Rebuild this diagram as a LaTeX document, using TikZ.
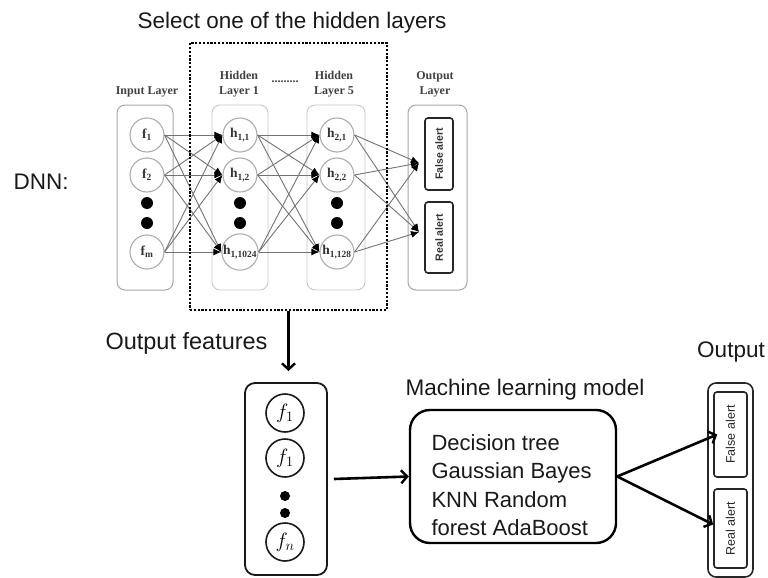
\documentclass[tikz,border=0pt]{standalone}
\usepackage{fontspec}
\setmainfont{Liberation Sans}
\newfontfamily\serifb{Liberation Serif}
\usetikzlibrary{arrows.meta}
\tikzset{
  neuron/.style={circle, draw=gray!65, line width=1.1pt, minimum size=34pt, inner sep=0pt,
    font=\serifb\bfseries\fontsize{13.5}{13.5}\selectfont, text=black!80},
  layerbox/.style={draw=gray!70, rounded corners=8pt, line width=1pt, minimum width=56pt, minimum height=185pt, inner sep=0pt},
  hidbox/.style={draw=gray!45, rounded corners=8pt, line width=0.9pt, minimum height=185pt, inner sep=0pt},
  layerlabel/.style={font=\serifb\bfseries\fontsize{12}{15}\selectfont, text=black!75, align=center},
  conn/.style={draw=black!55, line width=0.9pt, -{Latex[length=8pt,width=7pt,color=black]}},
  bigdot/.style={circle, fill=black, minimum size=12pt, inner sep=0pt},
  smalldot/.style={circle, fill=black, minimum size=10pt, inner sep=0pt},
  alertbox/.style={draw=black!85, rounded corners=3pt, line width=1.6pt, inner sep=0pt},
  bigtext/.style={font=\fontsize{22.5}{27}\selectfont, text=black!90},
  fcircle/.style={circle, draw=black!90, line width=1.6pt, minimum size=38pt, inner sep=0pt, font=\fontsize{21}{21}\selectfont},
  thickbox/.style={draw=black!90, line width=1.8pt, rounded corners=10pt, inner sep=0pt},
  bigarrow/.style={draw=black, line width=2.6pt, -{Straight Barb[length=6pt,width=13pt,line width=2.4pt]}}
}
\begin{document}
\begin{tikzpicture}[x=1pt,y=-1pt]
\useasboundingbox (0,0) rectangle (768,578);

% titles
\node[bigtext] (title) at (292,23) {Select one of the hidden layers};
\node[bigtext, anchor=west] (dnn) at (10,182) {DNN:};

% layer boxes
\node[layerbox] (inbox) at (145,197.5) {};
\node[hidbox, minimum width=56pt] (h1box) at (240,197.5) {};
\node[hidbox, minimum width=58pt] (h5box) at (336,197.5) {};
\node[layerbox, minimum width=59pt] (outbox) at (437.5,197.5) {};

% layer labels
\node[layerlabel] (inlab) at (147,92) {Input Layer};
\node[layerlabel] (h1lab) at (239,84) {Hidden\\Layer 1};
\node[layerlabel] (hdots) at (285,82) {.........};
\node[layerlabel] (h5lab) at (334,84) {Hidden\\Layer 5};
\node[layerlabel] (outlab) at (435,84) {Output\\Layer};

% input neurons
\node[neuron] (i1) at (147,135) {f\textsubscript{1}};
\node[neuron] (i2) at (147,175) {f\textsubscript{2}};
\node[bigdot] (id1) at (147,203) {};
\node[bigdot] (id2) at (147,223) {};
\node[neuron] (i3) at (147,252) {f\textsubscript{m}};

% hidden layer 1
\node[neuron] (a1) at (240,135) {h\textsubscript{1,1}};
\node[neuron] (a2) at (240,175) {h\textsubscript{1,2}};
\node[bigdot] (ad1) at (240,203) {};
\node[bigdot] (ad2) at (240,223) {};
\node[neuron] (a3) at (240,252) {h\textsubscript{1,1024}};

% hidden layer 5
\node[neuron] (b1) at (337,135) {h\textsubscript{2,1}};
\node[neuron] (b2) at (337,175) {h\textsubscript{2,2}};
\node[bigdot] (bd1) at (337,203) {};
\node[bigdot] (bd2) at (337,223) {};
\node[neuron] (b3) at (337,252) {h\textsubscript{1,128}};

% output layer boxes
\node[alertbox, minimum width=28pt, minimum height=72pt] (fa1) at (439,154) {};
\node[rotate=90, font=\bfseries\fontsize{10.5}{10.5}\selectfont, text=black!80] (fa1t) at (fa1) {False alert};
\node[alertbox, minimum width=28pt, minimum height=71pt] (ra1) at (439,237.5) {};
\node[rotate=90, font=\bfseries\fontsize{10.5}{10.5}\selectfont, text=black!80] (ra1t) at (ra1) {Real alert};
\coordinate (oF) at (419,163);
\coordinate (oR) at (419,232);

% connections
\foreach \u in {i1,i2,i3}{\foreach \v in {a1,a2,a3}{\draw[conn] (\u.east) -- (\v.west);}}
\foreach \u in {a1,a2,a3}{\foreach \v in {b1,b2,b3}{\draw[conn] (\u.east) -- (\v.west);}}
\foreach \u in {b1,b2,b3}{\foreach \v in {oF,oR}{\draw[conn] (\u.east) -- (\v);}}

% dotted selection
\node[draw=black, line width=2.8pt, dash pattern=on 2.2pt off 1.6pt, minimum width=197pt, minimum height=267pt, inner sep=0pt] (sel) at (288.5,176.5) {};
\coordinate (fin) at (288.5,371);
\draw[bigarrow] (sel.south) -- (fin);
\node[bigtext, anchor=west, font=\fontsize{23.5}{27}\selectfont] (outfeat) at (102,343) {Output features};

% feature box
\node[thickbox, minimum width=82pt, minimum height=192pt] (fbox) at (286,479) {};
\node[fcircle] (f1) at (285,413) {$f_1$};
\node[fcircle] (f2) at (285,458) {$f_1$};
\node[smalldot] (fd1) at (285,496) {};
\node[smalldot] (fd2) at (285,513) {};
\node[fcircle] (fn) at (285,542) {$f_n$};

% ML model
\node[bigtext] (mltitle) at (525,390) {Machine learning model};
\node[draw=black, line width=2.4pt, rounded corners=20pt, minimum width=206pt, minimum height=133pt, inner sep=0pt] (ml) at (513,476.5) {};
\node[anchor=west, align=left, font=\fontsize{22}{28.5}\selectfont, text=black!90] (mltext) at (428,485) {Decision tree\\Gaussian Bayes\\KNN Random\\forest AdaBoost};
\draw[bigarrow] ([xshift=6pt]fbox.east) -- (ml.west);

% output
\node[bigtext] (outtitle) at (731,352) {Output};
\node[draw=black!85, line width=1.6pt, rounded corners=8pt, minimum width=45pt, minimum height=194pt, inner sep=0pt] (obox) at (730.5,480) {};
\node[alertbox, minimum width=33pt, minimum height=85pt] (fa2) at (730.5,434.5) {};
\node[rotate=90, font=\fontsize{12.5}{12.5}\selectfont, text=black!85] (fa2t) at (fa2) {False alert};
\node[alertbox, minimum width=33pt, minimum height=79pt] (ra2) at (730.5,528.5) {};
\node[rotate=90, font=\fontsize{12.5}{12.5}\selectfont, text=black!85] (ra2t) at (ra2) {Real alert};
\draw[bigarrow] (ml.east) -- ([xshift=4pt]fa2.west);
\draw[bigarrow] (ml.east) -- ([yshift=4pt]ra2.west);
\end{tikzpicture}
\end{document}
